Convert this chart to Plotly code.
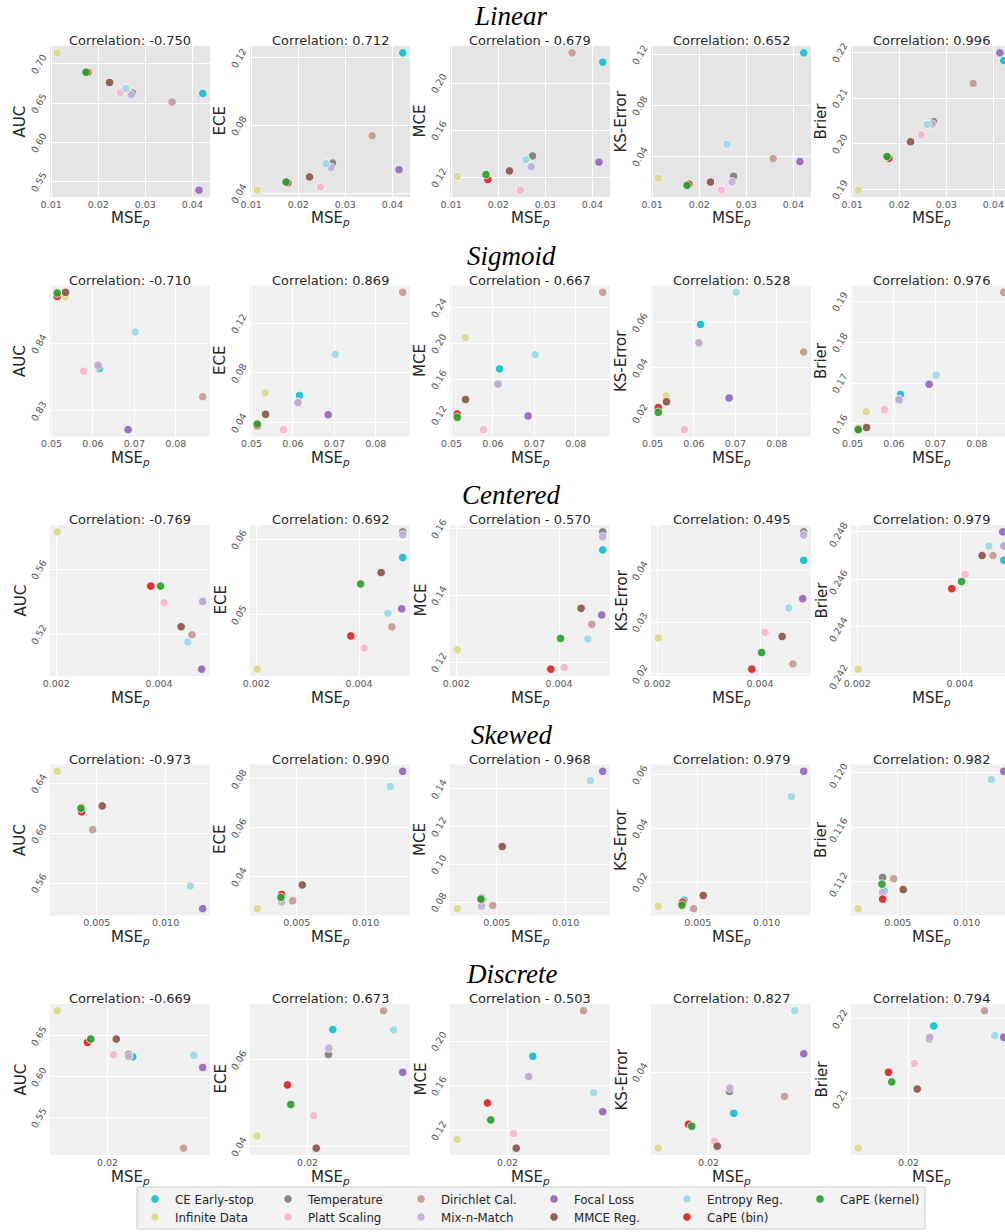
import plotly.graph_objects as go
from plotly.subplots import make_subplots

# ---------------- data ----------------
methods = ["CE Early-stop", "Infinite Data", "Temperature", "Platt Scaling", "Dirichlet Cal.",
           "Mix-n-Match", "Focal Loss", "MMCE Reg.", "Entropy Reg.", "CaPE (bin)", "CaPE (kernel)"]
colors = ["#17becf", "#dbdb8d", "#7f7f7f", "#f7b6d2", "#c49c94",
          "#c5b0d5", "#9467bd", "#8c564b", "#9edae5", "#d62728", "#2ca02c"]

row_names = ["Linear", "Sigmoid", "Centered", "Skewed", "Discrete"]
metric_names = ["AUC", "ECE", "MCE", "KS-Error", "Brier"]

# Linear
mse_linear = [0.0422, 0.0113, 0.0273, 0.0247, 0.0357, 0.0270, 0.0414, 0.0224, 0.0259, 0.0178, 0.0174]
auc_linear = [0.6624, 0.7139, 0.6628, 0.6636, 0.6514, 0.6607, 0.5394, 0.6763, 0.6683, 0.6892, 0.6894]
ece_linear = [0.1229, 0.0418, 0.0578, 0.0435, 0.0739, 0.0551, 0.0539, 0.0496, 0.0574, 0.0462, 0.0466]
mce_linear = [0.2177, 0.1208, 0.1383, 0.1093, 0.2256, 0.1292, 0.1330, 0.1256, 0.1351, 0.1183, 0.1225]
ks_linear = [0.1213, 0.0229, 0.0244, 0.0135, 0.0382, 0.0200, 0.0359, 0.0198, 0.0496, 0.0182, 0.0172]
brier_linear = [0.2182, 0.1898, 0.2048, 0.2019, 0.2132, 0.2043, 0.2199, 0.2004, 0.2042, 0.1968, 0.1972]

# Sigmoid
mse_sigmoid = [0.0616, 0.0533, 0.0613, 0.0577, 0.0865, 0.0612, 0.0685, 0.0534, 0.0702, 0.0514, 0.0514]
auc_sigmoid = [0.8363, 0.8469, 0.8366, 0.8359, 0.8321, 0.8368, 0.8272, 0.8476, 0.8417, 0.8470, 0.8475]
ece_sigmoid = [0.0619, 0.0640, 0.0563, 0.0344, 0.1448, 0.0561, 0.0464, 0.0467, 0.0949, 0.0376, 0.0389]
mce_sigmoid = [0.1715, 0.2067, 0.1548, 0.1037, 0.2570, 0.1544, 0.1189, 0.1374, 0.1874, 0.1211, 0.1174]
ks_sigmoid = [0.0590, 0.0276, 0.0508, 0.0128, 0.0469, 0.0510, 0.0267, 0.0251, 0.0731, 0.0225, 0.0204]
brier_sigmoid = [0.1672, 0.1630, 0.1658, 0.1635, 0.1922, 0.1660, 0.1697, 0.1591, 0.1719, 0.1588, 0.1586]

# Centered
mse_centered = [0.00485, 0.00202, 0.00485, 0.00410, 0.00464, 0.00485, 0.00483, 0.00443, 0.00456, 0.00384, 0.00403]
auc_centered = [0.5405, 0.5832, 0.5405, 0.5394, 0.5196, 0.5401, 0.4984, 0.5246, 0.5152, 0.5497, 0.5497]
ece_centered = [0.0576, 0.0428, 0.0610, 0.0456, 0.0484, 0.0606, 0.0508, 0.0556, 0.0502, 0.0472, 0.0541]
mce_centered = [0.1536, 0.1237, 0.1590, 0.1184, 0.1313, 0.1575, 0.1341, 0.1361, 0.1269, 0.1179, 0.1271]
ks_centered = [0.0419, 0.0269, 0.0474, 0.0280, 0.0219, 0.0468, 0.0345, 0.0272, 0.0327, 0.0209, 0.0241]
brier_centered = [0.2468, 0.2422, 0.2474, 0.2462, 0.2470, 0.2474, 0.2480, 0.2470, 0.2474, 0.2456, 0.2459]

# Skewed
mse_skewed = [0.0040, 0.00213, 0.0039, 0.0039, 0.0047, 0.0039, 0.0127, 0.0054, 0.0118, 0.0039, 0.00385]
auc_skewed = [0.6195, 0.6496, 0.6205, 0.6215, 0.6029, 0.6195, 0.5395, 0.6219, 0.5576, 0.6171, 0.6200]
ece_skewed = [0.0322, 0.0270, 0.0320, 0.0325, 0.0302, 0.0297, 0.0831, 0.0367, 0.0769, 0.0328, 0.0316]
mce_skewed = [0.0818, 0.0765, 0.0822, 0.0826, 0.0782, 0.0778, 0.1493, 0.1094, 0.1444, 0.0812, 0.0816]
ks_skewed = [0.0132, 0.0110, 0.0120, 0.0118, 0.0101, 0.0116, 0.0612, 0.0150, 0.0518, 0.0125, 0.0114]
brier_skewed = [0.1113, 0.1100, 0.1123, 0.1110, 0.1122, 0.1112, 0.1201, 0.1114, 0.1195, 0.1107, 0.1118]

# Discrete
mse_discrete = [0.02317, 0.01367, 0.02263, 0.02076, 0.02955, 0.02267, 0.03197, 0.02109, 0.03084, 0.01747, 0.01788]
auc_discrete = [0.6243, 0.6804, 0.6270, 0.6267, 0.5128, 0.6247, 0.6113, 0.6460, 0.6263, 0.6419, 0.6460]
ece_discrete = [0.0670, 0.0424, 0.0612, 0.0471, 0.0713, 0.0627, 0.0571, 0.0396, 0.0669, 0.0542, 0.0497]
mce_discrete = [0.1864, 0.1120, 0.1680, 0.1173, 0.2270, 0.1683, 0.1369, 0.1043, 0.1538, 0.1446, 0.1295]
ks_discrete = [0.0317, 0.0247, 0.0361, 0.0261, 0.0351, 0.0368, 0.0437, 0.0251, 0.0523, 0.0295, 0.0291]
brier_discrete = [0.2191, 0.2038, 0.2175, 0.2144, 0.2210, 0.2177, 0.2177, 0.2112, 0.2179, 0.2133, 0.2121]

corr_linear = ["Correlation: -0.750", "Correlation: 0.712", "Correlation - 0.679", "Correlation: 0.652", "Correlation: 0.996"]
corr_sigmoid = ["Correlation: -0.710", "Correlation: 0.869", "Correlation - 0.667", "Correlation: 0.528", "Correlation: 0.976"]
corr_centered = ["Correlation: -0.769", "Correlation: 0.692", "Correlation - 0.570", "Correlation: 0.495", "Correlation: 0.979"]
corr_skewed = ["Correlation: -0.973", "Correlation: 0.990", "Correlation - 0.968", "Correlation: 0.979", "Correlation: 0.982"]
corr_discrete = ["Correlation: -0.669", "Correlation: 0.673", "Correlation - 0.503", "Correlation: 0.827", "Correlation: 0.794"]

xticks_linear = [0.01, 0.02, 0.03, 0.04]
xticks_sigmoid = [0.05, 0.06, 0.07, 0.08]
xticks_centered = [0.002, 0.004]
xticks_skewed = [0.005, 0.010]
xticks_discrete = [0.02]

yticks_linear = [[0.55, 0.60, 0.65, 0.70], [0.04, 0.08, 0.12], [0.12, 0.16, 0.20], [0.04, 0.08, 0.12], [0.19, 0.20, 0.21, 0.22]]
yticks_sigmoid = [[0.83, 0.84], [0.04, 0.08, 0.12], [0.12, 0.16, 0.20, 0.24], [0.02, 0.04, 0.06], [0.16, 0.17, 0.18, 0.19]]
yticks_centered = [[0.52, 0.56], [0.05, 0.06], [0.12, 0.14, 0.16], [0.02, 0.03, 0.04], [0.242, 0.244, 0.246, 0.248]]
yticks_skewed = [[0.56, 0.60, 0.64], [0.04, 0.06, 0.08], [0.08, 0.10, 0.12, 0.14], [0.02, 0.04, 0.06], [0.112, 0.116, 0.120]]
yticks_discrete = [[0.55, 0.60, 0.65], [0.04, 0.06], [0.12, 0.16, 0.20], [0.04], [0.21, 0.22]]

rows_data = [
    (mse_linear, [auc_linear, ece_linear, mce_linear, ks_linear, brier_linear], corr_linear, xticks_linear, yticks_linear),
    (mse_sigmoid, [auc_sigmoid, ece_sigmoid, mce_sigmoid, ks_sigmoid, brier_sigmoid], corr_sigmoid, xticks_sigmoid, yticks_sigmoid),
    (mse_centered, [auc_centered, ece_centered, mce_centered, ks_centered, brier_centered], corr_centered, xticks_centered, yticks_centered),
    (mse_skewed, [auc_skewed, ece_skewed, mce_skewed, ks_skewed, brier_skewed], corr_skewed, xticks_skewed, yticks_skewed),
    (mse_discrete, [auc_discrete, ece_discrete, mce_discrete, ks_discrete, brier_discrete], corr_discrete, xticks_discrete, yticks_discrete),
]

# ---------------- layout geometry (pixels) ----------------
W, H = 1005, 1232
col_left = [50, 250, 450, 651, 851]
col_w = 160
row_top = [46, 285.5, 525, 764.5, 1004]
row_h = 151

FONT = "DejaVu Sans"
TXT = "#262626"
TICK = "#555555"


def pad_range(vals):
    lo, hi = min(vals), max(vals)
    s = hi - lo
    return [lo - 0.05 * s, hi + 0.05 * s]


fig = make_subplots(rows=5, cols=5)

annotations = []
shapes = []
for r, (mse, metrics, corr, xt, yts) in enumerate(rows_data):
    xfmt = ".3f" if r in (2, 3) else ".2f"
    for c in range(5):
        n = r * 5 + c + 1
        ys = metrics[c]
        for i, m in enumerate(methods):
            fig.add_trace(go.Scatter(
                x=[mse[i]], y=[ys[i]], mode="markers", name=m,
                legendgroup=m, showlegend=(n == 1),
                legend="legend" if i % 2 == 0 else "legend2",
                marker=dict(color=colors[i], size=8.5, opacity=0.92,
                            line=dict(color="white", width=0.8)),
                hoverinfo="skip"), row=r + 1, col=c + 1)
        # domains (last column is cut by the right edge of the page)
        x0 = col_left[c]
        x1 = min(col_left[c] + col_w, W)
        vis = x1 - x0
        xr = pad_range(mse)
        if vis < col_w:
            xr = [xr[0], xr[0] + (xr[1] - xr[0]) * vis / col_w]
        xc = (col_w / 2) / vis  # centre of the full (uncut) axis in domain units
        y_top = row_top[r]
        y_bot = row_top[r] + row_h
        yfmt = ".3f" if (c == 4 and r in (2, 3)) else ".2f"
        xa = "xaxis" if n == 1 else f"xaxis{n}"
        ya = "yaxis" if n == 1 else f"yaxis{n}"
        fig.update_layout({
            xa: dict(domain=[x0 / W, x1 / W], range=xr, tickvals=xt, tickformat=xfmt,
                     showgrid=True, gridcolor="white", gridwidth=1.3, zeroline=False,
                     showline=False, ticks="", tickfont=dict(size=9.5, color=TICK, family=FONT)),
            ya: dict(domain=[1 - y_bot / H, 1 - y_top / H], range=pad_range(ys), tickvals=yts[c],
                     tickformat=yfmt, tickangle=-60, ticklabelstandoff=6, ticklabelshift=-8,
                     showgrid=True, gridcolor="white", gridwidth=1.3, zeroline=False,
                     showline=False, ticks="", tickfont=dict(size=9.5, color=TICK, family=FONT)),
        })
        xref = f"x{'' if n == 1 else n} domain"
        yref = f"y{'' if n == 1 else n} domain"
        if r == 0:
            shapes.append(dict(type="rect", xref=xref, yref=yref, x0=0, x1=1, y0=0, y1=1,
                               fillcolor="#e5e5e5", line=dict(width=0), layer="below"))
        annotations.append(dict(text=corr[c], xref=xref, yref=yref, x=xc, y=1, yanchor="bottom",
                                xanchor="center", yshift=-4, showarrow=False,
                                font=dict(size=13, color=TXT, family=FONT)))
        annotations.append(dict(text=metric_names[c], xref=xref, yref=yref, x=0, y=0.5,
                                xshift=-30, textangle=-90, xanchor="center", yanchor="middle",
                                showarrow=False, font=dict(size=15, color=TXT, family=FONT)))
        annotations.append(dict(text="MSE<sub><i>p</i></sub>", xref=xref, yref=yref, x=xc, y=0,
                                yshift=-22, xanchor="center", yanchor="middle",
                                showarrow=False, font=dict(size=15, color=TXT, family=FONT)))
    annotations.append(dict(text=f"<i>{row_names[r]}</i>", xref="paper", yref="paper",
                            x=511 / W, y=1 - (row_top[r] - 30) / H, xanchor="center", yanchor="middle",
                            showarrow=False, font=dict(size=27, color="black", family="Liberation Serif")))

# legend box
shapes.append(dict(type="rect", xref="paper", yref="paper", x0=137 / W, x1=925 / W,
                   y0=1 - 1229 / H, y1=1 - 1187 / H, fillcolor="#f2f2f2",
                   line=dict(color="#cccccc", width=1), layer="below"))

leg_common = dict(orientation="h", xanchor="left", yanchor="middle", bgcolor="rgba(0,0,0,0)",
                  entrywidth=88, entrywidthmode="pixels", tracegroupgap=0,
                  font=dict(size=11.8, color=TXT, family=FONT))
fig.update_layout(
    width=W, height=H, margin=dict(l=0, r=0, t=0, b=0, autoexpand=False),
    paper_bgcolor="white", plot_bgcolor="#f0f0f0",
    font=dict(family=FONT, color=TXT),
    annotations=annotations, shapes=shapes,
    legend=dict(x=135 / W, y=1 - 1199 / H, **leg_common),
    legend2=dict(x=135 / W, y=1 - 1217 / H, **leg_common),
)

fig.write_html("out.html", config={"displayModeBar": False},
               post_script="document.body.style.margin='0px';document.body.style.overflow='hidden';")
